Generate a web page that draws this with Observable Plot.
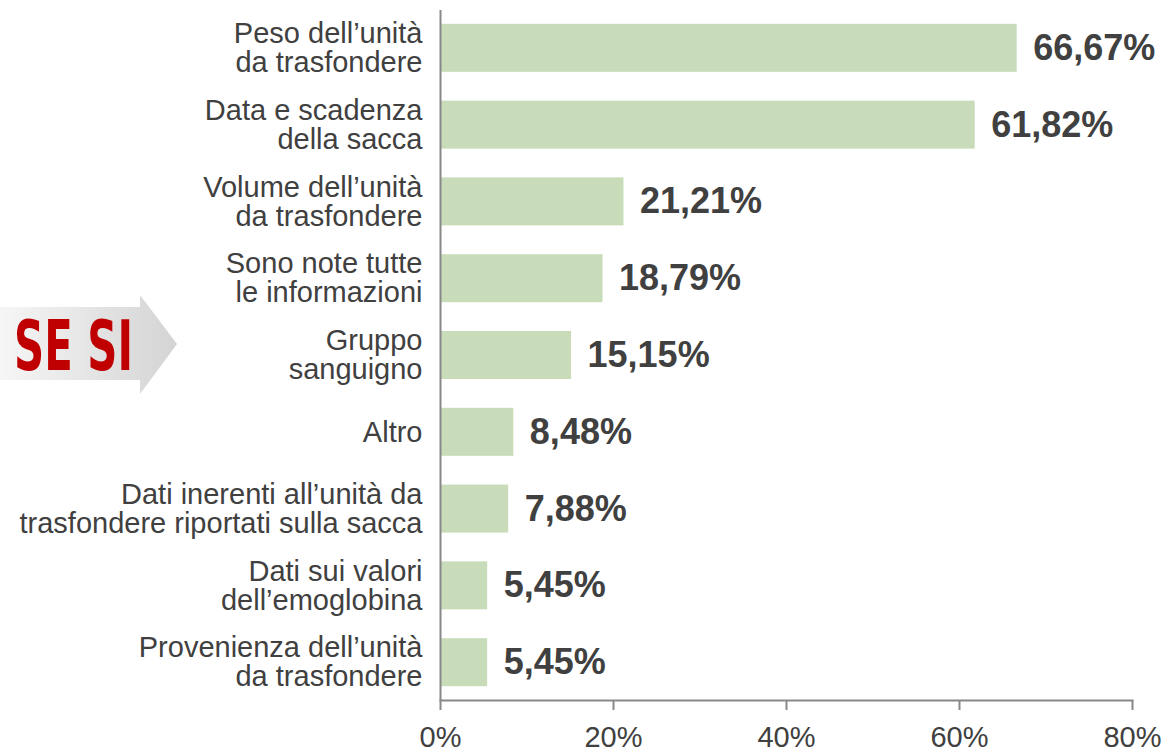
<!DOCTYPE html>
<html>
<head>
<meta charset="utf-8">
<script src="https://cdn.jsdelivr.net/npm/d3@7"></script>
<script src="https://cdn.jsdelivr.net/npm/@observablehq/plot@0.6"></script>
<style>
  html, body { margin: 0; padding: 0; background: #fff; }
  #wrap { position: relative; width: 1170px; height: 752px; }
  #wrap svg.plot { display: block; }
  #arrow { position: absolute; left: 0; top: 0; }
</style>
</head>
<body>
<div id="wrap">
  <svg id="arrow" width="190" height="752" viewBox="0 0 190 752">
    <defs>
      <linearGradient id="ag" x1="0" x2="1" y1="0" y2="0">
        <stop offset="0" stop-color="#f6f6f6"/>
        <stop offset="1" stop-color="#d4d4d4"/>
      </linearGradient>
    </defs>
    <polygon points="0,307 140,307 140,295 177,344 140,394 140,380 0,380" fill="url(#ag)"/>
    <text x="14" y="370" fill="#c00000" font-family="'Liberation Sans Narrow', 'DejaVu Sans Condensed', 'Liberation Sans', sans-serif" font-weight="bold" font-size="70" textLength="119" lengthAdjust="spacingAndGlyphs">SE SI</text>
  </svg>
</div>
<script>
const categories = [
  "Peso dell’unità\nda trasfondere",
  "Data e scadenza\ndella sacca",
  "Volume dell’unità\nda trasfondere",
  "Sono note tutte\nle informazioni",
  "Gruppo\nsanguigno",
  "Altro",
  "Dati inerenti all’unità da\ntrasfondere riportati sulla sacca",
  "Dati sui valori\ndell’emoglobina",
  "Provenienza dell’unità\nda trasfondere"
];
const values = [66.67, 61.82, 21.21, 18.79, 15.15, 8.48, 7.88, 5.45, 5.45];
const valueLabels = ["66,67%", "61,82%", "21,21%", "18,79%", "15,15%", "8,48%", "7,88%", "5,45%", "5,45%"];
const xTicks = [0, 20, 40, 60, 80];

const data = categories.map((c, i) => ({cat: c, value: values[i], label: valueLabels[i]}));

const font = "Arial, 'Liberation Sans', sans-serif";
const textColor = "#404040";
const axisColor = "#888888";

const chart = Plot.plot({
  width: 1170,
  height: 752,
  marginLeft: 440,
  marginRight: 38,
  marginTop: 10,
  marginBottom: 52,
  style: {fontFamily: font, background: "transparent", color: textColor},
  x: {domain: [0, 80], axis: null},
  y: {domain: categories, paddingInner: 0.375, paddingOuter: 0.18, round: false, axis: null},
  marks: [
    Plot.barX(data, {x: "value", y: "cat", fill: "#c8dcba"}),
    Plot.ruleX([0], {stroke: axisColor, strokeWidth: 2}),
    Plot.frame({anchor: "bottom", stroke: axisColor, strokeWidth: 2}),
    Plot.axisX({
      ticks: xTicks,
      tickSize: 10,
      tickPadding: 16,
      stroke: axisColor,
      strokeWidth: 2,
      fontSize: 29,
      fill: textColor,
      label: null,
      tickFormat: d => d + "%"
    }),
    Plot.text(data, {
      x: 0, y: "cat", text: "cat",
      dx: -18, textAnchor: "end",
      fontSize: 29, lineHeight: 1.0,
      fill: textColor
    }),
    Plot.text(data, {
      x: "value", y: "cat", text: "label",
      dx: 16, textAnchor: "start",
      fontSize: 36, fontWeight: "bold",
      fill: textColor
    })
  ]
});
chart.classList.add("plot");
document.getElementById("wrap").insertBefore(chart, document.getElementById("arrow"));
</script>
</body>
</html>
